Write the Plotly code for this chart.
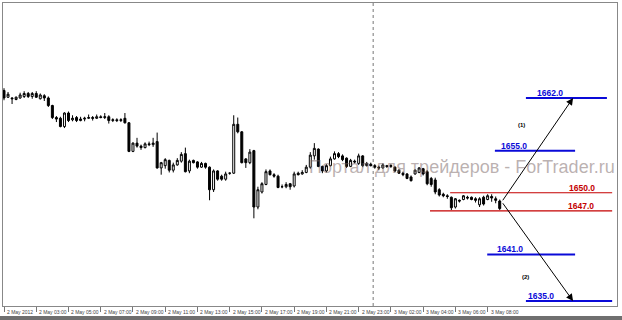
import plotly.graph_objects as go

# ---- data (15-minute bars, bar index on x) ----
opens = [1663.0, 1662.1, 1662.0, 1661.8, 1662.0, 1662.2, 1662.6, 1662.2, 1662.6, 1661.9,
         1662.3, 1662.0, 1661.0, 1659.4, 1659.3, 1658.2, 1660.0, 1659.1, 1659.4, 1659.0,
         1659.2, 1659.3, 1659.4, 1659.3, 1659.5, 1659.4, 1659.5, 1659.0, 1659.1, 1659.0,
         1659.3, 1658.7, 1654.9, 1656.0, 1655.6, 1655.4, 1655.9, 1655.8, 1656.2, 1652.7,
         1653.0, 1653.7, 1652.4, 1653.1, 1653.6, 1654.6, 1652.3, 1653.7, 1653.5, 1652.8,
         1653.3, 1652.8, 1649.8, 1652.3, 1651.6, 1651.2, 1652.0, 1652.0, 1658.5, 1657.5,
         1653.9, 1653.4, 1655.0, 1647.5, 1649.5, 1650.5, 1652.3, 1651.8, 1651.6, 1650.2,
         1650.2, 1650.6, 1650.3, 1652.0, 1651.9, 1652.1, 1652.8, 1654.3, 1655.2, 1652.9,
         1652.3, 1653.0, 1653.9, 1654.6, 1654.3, 1654.0, 1652.9, 1653.6, 1653.3, 1654.3,
         1653.0, 1653.2, 1653.0, 1652.8, 1652.7, 1653.0, 1652.9, 1652.8, 1652.4, 1652.0,
         1651.9, 1651.5, 1651.9, 1652.1, 1652.6, 1652.2, 1651.3, 1651.1, 1649.8, 1649.2,
         1649.0, 1648.8, 1647.5, 1648.4, 1648.5, 1648.8, 1648.8, 1648.6, 1647.8, 1648.8,
         1648.5, 1648.9, 1648.6, 1648.3]
highs = [1663.3, 1662.8, 1662.1, 1662.2, 1662.7, 1662.9, 1662.8, 1662.8, 1662.9, 1662.6,
         1662.5, 1662.2, 1661.1, 1659.6, 1659.5, 1660.1, 1660.2, 1659.7, 1659.6, 1659.5,
         1659.5, 1659.8, 1659.6, 1659.8, 1659.7, 1660.0, 1659.7, 1659.3, 1659.3, 1659.3,
         1660.0, 1658.8, 1656.1, 1656.7, 1655.8, 1656.1, 1656.2, 1656.7, 1657.4, 1653.5,
         1654.0, 1653.8, 1653.4, 1654.0, 1654.8, 1655.4, 1653.8, 1653.8, 1653.6, 1653.5,
         1653.4, 1652.9, 1652.5, 1652.4, 1651.8, 1652.2, 1652.1, 1659.7, 1659.4, 1657.6,
         1654.0, 1655.2, 1655.1, 1650.2, 1650.8, 1652.5, 1652.5, 1652.0, 1651.8, 1650.5,
         1650.8, 1650.7, 1652.2, 1652.2, 1652.4, 1653.1, 1654.8, 1656.0, 1655.3, 1653.0,
         1653.2, 1654.2, 1654.9, 1654.8, 1654.5, 1654.1, 1653.9, 1653.8, 1654.6, 1654.4,
         1653.5, 1653.4, 1653.2, 1653.0, 1653.3, 1653.1, 1653.2, 1652.9, 1652.5, 1652.2,
         1652.0, 1651.7, 1652.5, 1652.8, 1652.7, 1652.4, 1651.5, 1651.4, 1650.0, 1649.4,
         1649.2, 1648.9, 1648.7, 1648.5, 1649.1, 1649.0, 1648.9, 1648.8, 1648.8, 1649.0,
         1649.2, 1649.2, 1648.9, 1648.5]
lows = [1661.7, 1662.0, 1661.2, 1661.7, 1661.9, 1662.0, 1662.0, 1661.9, 1662.0, 1661.8,
        1661.6, 1660.8, 1659.2, 1658.8, 1658.1, 1658.0, 1658.8, 1658.9, 1658.8, 1658.9,
        1658.9, 1659.2, 1659.0, 1659.2, 1659.3, 1659.2, 1658.6, 1658.8, 1658.8, 1658.8,
        1658.6, 1654.8, 1654.8, 1655.4, 1655.1, 1655.3, 1655.6, 1655.5, 1652.6, 1651.8,
        1652.6, 1652.1, 1652.1, 1653.0, 1653.4, 1652.1, 1652.0, 1653.3, 1652.6, 1652.7,
        1652.6, 1648.4, 1649.5, 1651.0, 1651.0, 1651.0, 1651.8, 1651.9, 1657.3, 1653.3,
        1652.7, 1653.2, 1646.0, 1647.2, 1649.3, 1650.4, 1651.7, 1651.4, 1650.0, 1650.0,
        1650.0, 1649.8, 1650.1, 1651.7, 1651.8, 1652.0, 1652.6, 1653.8, 1652.8, 1652.0,
        1652.1, 1652.9, 1653.8, 1654.0, 1653.6, 1652.7, 1652.8, 1653.3, 1653.1, 1652.8,
        1652.9, 1652.9, 1652.6, 1652.4, 1652.6, 1652.7, 1652.7, 1652.1, 1651.9, 1651.6,
        1651.2, 1650.9, 1651.8, 1652.0, 1651.7, 1650.4, 1650.2, 1649.2, 1648.9, 1648.8,
        1648.6, 1647.1, 1647.3, 1648.1, 1648.4, 1648.5, 1648.4, 1648.1, 1647.5, 1647.7,
        1648.4, 1648.2, 1648.0, 1647.1]
closes = [1662.0, 1662.5, 1661.9, 1662.1, 1662.4, 1662.6, 1662.2, 1662.6, 1662.1, 1662.4,
          1662.0, 1661.0, 1659.4, 1659.2, 1658.2, 1660.0, 1659.0, 1659.3, 1659.0, 1659.2,
          1659.3, 1659.4, 1659.3, 1659.5, 1659.4, 1659.5, 1659.0, 1659.1, 1659.0, 1659.1,
          1658.7, 1654.9, 1656.0, 1655.6, 1655.4, 1655.9, 1655.8, 1656.0, 1652.7, 1653.4,
          1653.8, 1652.4, 1653.1, 1653.7, 1654.5, 1652.2, 1653.6, 1653.4, 1652.8, 1653.3,
          1652.8, 1649.8, 1652.3, 1651.2, 1651.2, 1651.9, 1652.0, 1658.5, 1657.5, 1653.4,
          1653.4, 1654.8, 1647.5, 1649.8, 1650.6, 1652.2, 1651.8, 1651.6, 1650.1, 1650.2,
          1650.5, 1650.2, 1651.9, 1651.8, 1652.1, 1652.8, 1654.4, 1655.3, 1652.9, 1652.3,
          1653.0, 1653.9, 1654.6, 1654.2, 1653.8, 1652.9, 1653.7, 1653.5, 1654.3, 1653.0,
          1653.3, 1653.0, 1652.8, 1652.7, 1653.1, 1652.9, 1653.0, 1652.3, 1652.0, 1651.8,
          1651.3, 1651.0, 1652.4, 1652.7, 1651.9, 1650.6, 1650.5, 1649.5, 1649.1, 1649.0,
          1648.9, 1647.4, 1648.6, 1648.3, 1649.0, 1648.7, 1648.5, 1648.4, 1648.6, 1647.9,
          1649.0, 1648.7, 1648.4, 1647.3]

tick_bars = [0, 8, 16, 24, 32, 40, 48, 56, 64, 72, 80, 88, 96, 104, 112, 120]
tick_labels = ["2 May 2012", "2 May 03:00", "2 May 05:00", "2 May 07:00", "2 May 09:00",
               "2 May 11:00", "2 May 13:00", "2 May 15:00", "2 May 17:00", "2 May 19:00",
               "2 May 21:00", "2 May 23:00", "3 May 02:00", "3 May 04:00", "3 May 06:00",
               "3 May 08:00"]

separator_bar = 91.6

# price levels drawn as horizontal objects (label text, and the price where each is drawn)
level_labels = ["1662.0", "1655.0", "1650.0", "1647.0", "1641.0", "1635.0"]
level_prices = [1662.0, 1655.0, 1649.4, 1647.0, 1641.2, 1635.0]
level_start = [129.5, 121.8, 110.7, 105.7, 119.9, 129.5]
level_end = [149.6, 141.7, 150.9, 150.9, 141.7, 150.9]
level_label_at = [135.5, 126.5, 143.3, 143.2, 125.6, 133.2]
level_kind = ["target", "target", "range", "range", "target", "target"]

# scenario arrows: start point and targets
arrow_start_bar, arrow_start_price = 123.5, 1648.2
arrow_end_bar = 141.2
arrow_targets = [1662.0, 1635.0]
scenario_names = ["(1)", "(2)"]
scenario_bars = [128.5, 129.3]
scenario_prices = [1658.4, 1638.2]

watermark = "Портал для трейдеров - ForTrader.ru"

# ---- figure ----
bars = list(range(len(opens)))
fig = go.Figure()
fig.add_trace(go.Candlestick(
    x=bars, open=opens, high=highs, low=lows, close=closes,
    increasing=dict(line=dict(color="black", width=1), fillcolor="white"),
    decreasing=dict(line=dict(color="black", width=1), fillcolor="black"),
    whiskerwidth=0, hoverinfo="skip", showlegend=False))

colors = {"target": "#0a0ad8", "range": "#c40000"}
widths = {"target": 2, "range": 1.2}
for p, lab, s, e, la, k in zip(level_prices, level_labels, level_start, level_end,
                               level_label_at, level_kind):
    fig.add_shape(type="line", x0=s, x1=e, y0=p, y1=p, xref="x", yref="y",
                  line=dict(color=colors[k], width=widths[k]))
    fig.add_annotation(x=la, y=p, xref="x", yref="y", text="<b>%s</b>" % lab,
                       showarrow=False, yanchor="bottom", yshift=-2,
                       font=dict(family="Liberation Sans", size=8.5, color=colors[k]))

for t in arrow_targets:
    fig.add_annotation(x=arrow_end_bar, y=t, ax=arrow_start_bar, ay=arrow_start_price,
                       xref="x", yref="y", axref="x", ayref="y", text="",
                       showarrow=True, arrowhead=2, arrowsize=1.4, arrowwidth=1,
                       arrowcolor="black")

for n, b, p in zip(scenario_names, scenario_bars, scenario_prices):
    fig.add_annotation(x=b, y=p, xref="x", yref="y", text="<b>%s</b>" % n,
                       showarrow=False,
                       font=dict(family="Liberation Sans", size=6, color="black"))

fig.add_shape(type="line", x0=separator_bar, x1=separator_bar, y0=0, y1=1,
              xref="x", yref="paper", line=dict(color="#777777", width=1, dash="dot"))

for b, lab in zip(tick_bars, tick_labels):
    fig.add_annotation(x=b, y=0, xref="x", yref="paper", text=lab, showarrow=False,
                       xanchor="left", yanchor="top", xshift=1, yshift=-1,
                       font=dict(family="Liberation Sans", size=5, color="#444444"))

fig.add_annotation(x=0.748, y=0.459, xref="paper", yref="paper", text=watermark,
                   showarrow=False, xanchor="center", yanchor="middle",
                   font=dict(family="Liberation Sans", size=18, color="rgba(120,100,100,0.5)"))

# bottom dark band
fig.add_shape(type="rect", x0=-0.01, x1=1.01, y0=-0.033, y1=-0.05, xref="paper", yref="paper",
              fillcolor="#6f6f6f", line=dict(width=0), layer="above")

fig.update_layout(
    width=622, height=320,
    margin=dict(l=3, r=5, t=3, b=14),
    paper_bgcolor="white", plot_bgcolor="white",
    showlegend=False,
    xaxis=dict(range=[-0.25, 152.1], rangeslider=dict(visible=False),
               showgrid=False, zeroline=False, showline=True, mirror=True,
               linecolor="#888888", linewidth=1,
               tickvals=tick_bars, ticks="outside", ticklen=5, tickcolor="#777777",
               showticklabels=False),
    yaxis=dict(range=[1634.34, 1674.63], showgrid=False, zeroline=False,
               showline=True, mirror=True, linecolor="#888888", linewidth=1,
               showticklabels=False, ticks=""),
)

fig.write_html("out.html")
